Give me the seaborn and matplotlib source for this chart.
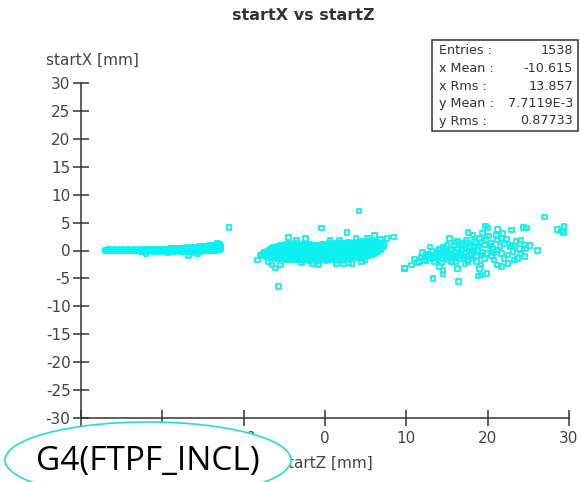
import matplotlib
matplotlib.use("Agg")
import matplotlib.pyplot as plt
from matplotlib.patches import Ellipse, Rectangle
import pandas as pd
import seaborn as sns

# ---- data: start positions (startZ, startX) in mm ----
# upstream band
z_band = [
    -27.0, -27.0, -26.6, -26.6, -26.2, -26.2, -25.8, -25.8, -25.4, -25.4,
    -25.0, -25.0, -24.6, -24.6, -24.2, -24.2, -23.8, -23.8, -23.4, -23.4,
    -23.0, -23.0, -22.6, -22.6, -22.6, -22.2, -22.2, -21.8, -21.8, -21.8,
    -21.4, -21.4, -21.0, -21.0, -21.0, -20.6, -20.6, -20.2, -20.2, -20.2,
    -19.8, -19.8, -19.4, -19.4, -19.4, -19.0, -19.0, -19.0, -18.6, -18.6,
    -18.6, -18.2, -18.2, -18.2, -17.8, -17.8, -17.8, -17.4, -17.4, -17.4,
    -17.0, -17.0, -17.0, -16.6, -16.6, -16.6, -16.2, -16.2, -16.2, -16.2,
    -15.8, -15.8, -15.8, -15.4, -15.4, -15.4, -15.4, -15.0, -15.0, -15.0,
    -14.6, -14.6, -14.6, -14.6, -14.2, -14.2, -14.2, -14.2, -13.8, -13.8,
    -13.8, -13.8, -13.4, -13.4, -13.4, -13.4, -13.0, -13.0, -13.0, -13.0,
    -12.8, -12.8,
    -22.0, -16.8, -15.7, -19.3, -11.8, -13.2,
    -26.8, -26.4, -26.0, -25.6, -25.2, -24.8, -24.4, -24.0, -23.6, -23.2,
    -22.8, -22.4, -22.0, -21.6, -21.2, -20.8, -20.4, -20.0, -19.6, -19.2,
    -18.8, -18.8, -18.4, -18.4, -18.0, -18.0, -17.6, -17.6, -17.2, -17.2,
    -16.8, -16.8, -16.4, -16.4, -16.0, -16.0, -15.6, -15.6, -15.2, -15.2,
    -14.8, -14.8, -14.8, -14.4, -14.4, -14.4, -14.0, -14.0, -14.0,
    -13.6, -13.6, -13.6, -13.2, -13.2, -13.2,
]
x_band = [
    -0.1, 0.1, 0.0, 0.15, -0.1, 0.1, 0.0, 0.15, -0.1, 0.1,
    0.0, 0.2, -0.1, 0.1, 0.0, 0.15, -0.1, 0.1, 0.0, 0.2,
    -0.1, 0.1, -0.2, 0.1, 0.3, -0.1, 0.2, -0.2, 0.0, 0.3,
    -0.1, 0.2, -0.2, 0.1, 0.3, -0.1, 0.2, -0.2, 0.0, 0.3,
    -0.1, 0.2, -0.2, 0.1, 0.3, -0.1, 0.2, 0.4, -0.2, 0.1,
    0.3, -0.1, 0.2, 0.4, -0.3, 0.0, 0.3, -0.2, 0.1, 0.4,
    -0.1, 0.2, 0.5, -0.3, 0.0, 0.3, -0.2, 0.1, 0.4, 0.6,
    -0.1, 0.2, 0.5, -0.2, 0.1, 0.4, 0.7, -0.1, 0.2, 0.5,
    -0.1, 0.2, 0.5, 0.8, 0.0, 0.3, 0.6, 0.9, -0.1, 0.2,
    0.5, 0.8, 0.0, 0.3, 0.6, 1.0, 0.1, 0.4, 0.8, 1.1,
    0.3, 0.7,
    -0.5, -1.0, -0.6, -0.4, 4.1, 1.3,
    0.05, 0.0, 0.05, 0.0, 0.05, 0.0, 0.05, 0.0, 0.05, 0.0,
    0.05, 0.1, 0.05, 0.1, 0.05, 0.1, 0.05, 0.1, 0.05, 0.1,
    0.0, 0.35, 0.0, 0.35, 0.05, 0.4, 0.0, 0.35, 0.05, 0.4,
    0.0, 0.35, 0.05, 0.45, 0.0, 0.4, 0.05, 0.45, 0.0, 0.4,
    0.1, 0.45, 0.75, 0.1, 0.45, 0.75, 0.15, 0.5, 0.8,
    0.15, 0.5, 0.85, 0.2, 0.55, 0.9,
]

# central cluster
z_mid = [
    -7.9, -7.5, -7.5, -7.1, -7.1, -7.1, -6.7, -6.7, -6.7, -6.7,
    -6.3, -6.3, -6.3, -6.3, -6.3, -5.9, -5.9, -5.9, -5.9, -5.9,
    -5.5, -5.5, -5.5, -5.5, -5.5, -5.5, -5.1, -5.1, -5.1, -5.1, -5.1, -5.1,
    -4.7, -4.7, -4.7, -4.7, -4.7, -4.7, -4.3, -4.3, -4.3, -4.3, -4.3, -4.3,
    -3.9, -3.9, -3.9, -3.9, -3.9, -3.9, -3.5, -3.5, -3.5, -3.5, -3.5, -3.5,
    -3.1, -3.1, -3.1, -3.1, -3.1, -3.1, -2.7, -2.7, -2.7, -2.7, -2.7, -2.7,
    -2.3, -2.3, -2.3, -2.3, -2.3, -2.3, -1.9, -1.9, -1.9, -1.9, -1.9, -1.9,
    -1.5, -1.5, -1.5, -1.5, -1.5, -1.5, -1.1, -1.1, -1.1, -1.1, -1.1, -1.1,
    -0.7, -0.7, -0.7, -0.7, -0.7, -0.7, -0.3, -0.3, -0.3, -0.3, -0.3, -0.3,
    0.1, 0.1, 0.1, 0.1, 0.1, 0.1, 0.5, 0.5, 0.5, 0.5, 0.5, 0.5,
    0.9, 0.9, 0.9, 0.9, 0.9, 0.9, 1.3, 1.3, 1.3, 1.3, 1.3, 1.3,
    1.7, 1.7, 1.7, 1.7, 1.7, 1.7, 2.1, 2.1, 2.1, 2.1, 2.1, 2.1,
    2.5, 2.5, 2.5, 2.5, 2.5, 2.5, 2.9, 2.9, 2.9, 2.9, 2.9, 2.9,
    3.3, 3.3, 3.3, 3.3, 3.3, 3.3, 3.7, 3.7, 3.7, 3.7, 3.7, 3.7,
    4.1, 4.1, 4.1, 4.1, 4.1, 4.1, 4.5, 4.5, 4.5, 4.5, 4.5, 4.5,
    4.9, 4.9, 4.9, 4.9, 4.9, 4.9, 5.3, 5.3, 5.3, 5.3, 5.3, 5.3,
    5.7, 5.7, 5.7, 5.7, 5.7, 6.1, 6.1, 6.1, 6.1, 6.1,
    6.5, 6.5, 6.5, 6.5, 6.9, 6.9, 6.9, 7.2, 7.2,
    -4.5, -2.4, -0.4, 2.7, 4.2, 6.1, 7.6, 8.4, 9.8, -8.3,
    -7.0, -6.5, -6.1, -5.5, -5.7, 3.3, 4.9, 1.4, 2.3, -0.8,
    -3.5, 0.6, 1.8, 3.8, 5.2, -1.6, 4.5, 2.9, -2.9, 6.8,
    -7.7, -7.3, -7.3, -6.9, -6.9, -6.9, -6.5, -6.5, -6.5, -6.5,
    -6.1, -6.1, -6.1, -6.1, -5.7, -5.7, -5.7, -5.7, -5.7,
    -5.3, -5.3, -5.3, -5.3, -5.3, -4.9, -4.9, -4.9, -4.9, -4.9,
    -4.5, -4.5, -4.5, -4.5, -4.5, -4.1, -4.1, -4.1, -4.1, -4.1,
    -3.7, -3.7, -3.7, -3.7, -3.7, -3.3, -3.3, -3.3, -3.3, -3.3,
    -2.9, -2.9, -2.9, -2.9, -2.9, -2.5, -2.5, -2.5, -2.5, -2.5,
    -2.1, -2.1, -2.1, -2.1, -2.1, -1.7, -1.7, -1.7, -1.7, -1.7,
    -1.3, -1.3, -1.3, -1.3, -1.3, -0.9, -0.9, -0.9, -0.9, -0.9,
    -0.5, -0.5, -0.5, -0.5, -0.5, -0.1, -0.1, -0.1, -0.1, -0.1,
    0.3, 0.3, 0.3, 0.3, 0.3, 0.7, 0.7, 0.7, 0.7, 0.7,
    1.1, 1.1, 1.1, 1.1, 1.1, 1.5, 1.5, 1.5, 1.5, 1.5,
    1.9, 1.9, 1.9, 1.9, 1.9, 2.3, 2.3, 2.3, 2.3, 2.3,
    2.7, 2.7, 2.7, 2.7, 2.7, 3.1, 3.1, 3.1, 3.1, 3.1,
    3.5, 3.5, 3.5, 3.5, 3.5, 3.9, 3.9, 3.9, 3.9, 3.9,
    4.3, 4.3, 4.3, 4.3, 4.3, 4.7, 4.7, 4.7, 4.7, 4.7,
    5.1, 5.1, 5.1, 5.1, 5.1, 5.5, 5.5, 5.5, 5.5, 5.5,
    5.9, 5.9, 5.9, 5.9, 6.3, 6.3, 6.3, 6.3, 6.7, 6.7,
]
x_mid = [
    -0.8, -0.9, -0.4, -1.1, -0.6, -0.1, -1.2, -0.7, -0.2, 0.2,
    -1.3, -0.8, -0.3, 0.2, 0.5, -1.4, -0.9, -0.4, 0.1, 0.6,
    -1.5, -1.0, -0.5, 0.0, 0.5, 0.9, -1.5, -1.0, -0.4, 0.1, 0.6, 1.0,
    -1.6, -1.1, -0.5, 0.0, 0.5, 1.1, -1.6, -1.0, -0.5, 0.1, 0.6, 1.2,
    -1.7, -1.1, -0.6, 0.0, 0.6, 1.1, -1.7, -1.2, -0.6, -0.1, 0.5, 1.2,
    -1.6, -1.1, -0.5, 0.0, 0.6, 1.0, -1.8, -1.2, -0.7, -0.1, 0.4, 1.1,
    -1.7, -1.1, -0.6, 0.0, 0.5, 1.0, -1.8, -1.2, -0.6, -0.1, 0.5, 1.1,
    -1.7, -1.1, -0.5, 0.0, 0.6, 1.0, -1.8, -1.3, -0.7, -0.1, 0.4, 0.9,
    -1.9, -1.2, -0.6, 0.0, 0.5, 1.0, -1.7, -1.1, -0.5, 0.1, 0.6, 1.1,
    -1.8, -1.2, -0.6, 0.0, 0.5, 1.0, -1.7, -1.1, -0.5, 0.1, 0.6, 1.2,
    -1.6, -1.0, -0.4, 0.2, 0.7, 1.1, -1.7, -1.1, -0.5, 0.1, 0.6, 1.2,
    -1.6, -1.0, -0.4, 0.2, 0.7, 1.3, -1.5, -0.9, -0.3, 0.2, 0.8, 1.2,
    -1.6, -1.0, -0.4, 0.1, 0.7, 1.3, -1.4, -0.8, -0.3, 0.3, 0.8, 1.4,
    -1.5, -0.9, -0.3, 0.2, 0.8, 1.3, -1.3, -0.8, -0.2, 0.3, 0.9, 1.5,
    -1.3, -0.7, -0.1, 0.4, 0.9, 1.4, -1.2, -0.6, 0.0, 0.5, 1.0, 1.6,
    -1.0, -0.5, 0.1, 0.6, 1.1, 1.5, -0.9, -0.3, 0.2, 0.7, 1.2, 1.7,
    -0.7, -0.2, 0.3, 0.8, 1.3, -0.5, 0.0, 0.5, 1.0, 1.5,
    -0.2, 0.3, 0.8, 1.3, 0.2, 0.7, 1.2, 0.6, 1.1,
    2.3, 2.2, 4.0, 3.2, 7.1, 2.7, 2.2, 2.4, -3.1, -1.7,
    -2.0, -2.6, -3.1, -2.6, -6.5, -2.3, -1.6, -2.4, -2.4, -2.5,
    1.8, 1.9, 1.9, 2.1, 2.2, -2.3, -2.0, -2.1, -2.2, 2.0,
    -0.7, -0.8, -0.3, -1.0, -0.4, 0.0, -1.1, -0.5, 0.0, 0.4,
    -1.2, -0.6, -0.1, 0.4, -1.2, -0.7, -0.2, 0.3, 0.8,
    -1.3, -0.7, -0.2, 0.3, 0.8, -1.3, -0.8, -0.2, 0.3, 0.8,
    -1.4, -0.8, -0.3, 0.3, 0.9, -1.4, -0.8, -0.3, 0.3, 0.9,
    -1.4, -0.9, -0.3, 0.3, 0.8, -1.4, -0.8, -0.3, 0.2, 0.8,
    -1.4, -0.9, -0.4, 0.2, 0.8, -1.5, -0.9, -0.3, 0.2, 0.7,
    -1.4, -0.8, -0.3, 0.3, 0.8, -1.5, -0.9, -0.3, 0.2, 0.8,
    -1.4, -0.8, -0.3, 0.3, 0.7, -1.5, -0.9, -0.4, 0.2, 0.7,
    -1.4, -0.8, -0.2, 0.3, 0.8, -1.5, -0.9, -0.3, 0.3, 0.8,
    -1.4, -0.8, -0.3, 0.3, 0.8, -1.4, -0.8, -0.2, 0.4, 0.9,
    -1.3, -0.7, -0.2, 0.4, 0.9, -1.3, -0.7, -0.1, 0.4, 1.0,
    -1.2, -0.6, -0.1, 0.5, 1.0, -1.3, -0.7, -0.1, 0.4, 1.0,
    -1.1, -0.6, 0.0, 0.5, 1.1, -1.2, -0.6, 0.0, 0.5, 1.1,
    -1.0, -0.5, 0.1, 0.6, 1.1, -1.0, -0.4, 0.1, 0.7, 1.2,
    -0.9, -0.3, 0.2, 0.7, 1.3, -0.8, -0.2, 0.3, 0.8, 1.3,
    -0.6, -0.1, 0.4, 0.9, 1.4, -0.4, 0.1, 0.6, 1.1, 1.5,
    -0.2, 0.2, 0.7, 1.2, 0.1, 0.5, 1.0, 1.4, 0.4, 0.9,
]

# downstream cluster
z_down = [
    15.3, 17.6, 18.2, 19.7, 20.0, 21.2, 21.1, 19.4, 19.0, 19.8,
    18.4, 17.4, 16.3, 15.9, 17.0, 17.8, 18.8, 19.6, 20.4, 21.2,
    21.7, 22.3, 22.9, 24.4, 24.8, 23.5, 24.1, 24.5, 23.9, 24.7,
    26.1, 23.1, 22.5, 21.7, 20.8, 20.6, 21.2, 20.0, 19.2, 19.6,
    18.6, 18.0, 17.2, 16.6, 15.7, 15.1, 14.7, 14.1, 13.7, 13.3,
    12.9, 13.5, 14.3, 15.1, 15.5, 16.1, 17.2, 17.6, 18.6, 19.2,
    20.8, 21.7, 22.5, 23.3, 23.7, 21.2, 14.1, 16.3, 19.0, 14.5,
    27.0, 28.6, 29.1, 29.4, 29.3, 9.8, 11.4, 11.6, 13.3, 16.4,
    14.5, 18.8, 19.2, 19.9, 12.7, 11.0, 11.8, 12.2, 12.5, 13.0,
    13.6, 14.0, 14.4, 14.8, 15.2, 15.5, 16.0, 16.3, 16.8, 17.3,
    14.0, 14.6, 15.0, 13.2, 12.0, 15.8, 16.5, 17.0, 17.8, 18.3,
    18.8, 19.3, 17.5, 18.2, 16.0, 16.8, 17.5, 18.6, 19.2, 20.3,
    20.5, 21.5, 22.0, 22.8, 23.0, 24.0, 24.5, 12.4, 13.9, 15.4,
    16.9, 18.1, 20.1, 22.1, 25.2, 21.9, 10.6, 12.9, 14.8, 16.6,
]
x_down = [
    2.2, 3.2, 2.8, 4.4, 4.0, 3.8, 2.8, 3.1, 2.2, 2.0,
    1.6, 1.9, 1.6, 1.0, 1.0, 0.7, 0.7, 1.0, 1.3, 1.9,
    2.2, 2.0, 3.7, 4.1, 4.0, 1.6, 1.9, 1.0, 0.4, 0.4,
    0.0, -0.2, -0.8, -0.5, -0.4, 0.4, 0.1, -0.5, -0.8, -1.4,
    -1.0, -0.5, -0.5, -0.5, -0.8, -0.2, -0.5, -0.2, -0.5, -1.1,
    -0.8, -2.0, -2.2, -1.7, -2.0, -2.0, -2.3, -2.0, -2.0, -2.6,
    -1.7, -2.9, -2.3, -1.7, -1.4, -2.6, -2.9, -3.2, -3.2, -3.6,
    6.0, 3.8, 3.5, 4.3, 3.2, -3.2, -2.2, -2.0, -5.0, -5.5,
    -4.2, -4.6, -4.4, -4.1, -1.1, -1.5, -1.2, -1.6, -0.6, -1.5,
    -1.2, -0.9, -1.5, -1.0, -0.6, 0.2, -0.3, 0.3, 0.1, 0.5,
    0.3, 0.6, 0.9, -0.2, -0.4, -1.3, -1.5, -1.0, -0.9, -0.2,
    0.2, -0.3, -1.6, -1.5, 1.5, 1.3, 1.2, 1.2, 1.5, 0.8,
    -0.9, 0.7, -1.4, 0.6, 1.0, -0.6, -1.1, -1.9, -1.6, -1.2,
    -1.0, 0.1, 2.6, 1.2, 0.9, 3.0, -2.6, 0.6, 0.2, -0.9,
]

z_all = z_band + z_mid + z_down
x_all = x_band + x_mid + x_down
df = pd.DataFrame({"startZ": z_all, "startX": x_all})

# ---- statistics box contents ----
stat_names = ["Entries :", "x Mean :", "x Rms :", "y Mean :", "y Rms :"]
stat_values = ["1538", "-10.615", "13.857", "7.7119E-3", "0.87733"]

x_ticks = [-30, -20, -10, 0, 10, 20, 30]
y_ticks = [-30, -25, -20, -15, -10, -5, 0, 5, 10, 15, 20, 25, 30]

sns.set_style("white")
plt.rcParams["font.family"] = ["DejaVu Sans"]

W, H = 580, 482
fig = plt.figure(figsize=(W / 100, H / 100), dpi=100)
ax = fig.add_axes([81 / W, 1 - 418 / H, (569 - 81) / W, (418 - 83) / H])

sns.scatterplot(
    data=df, x="startZ", y="startX", ax=ax,
    marker="s", s=11, facecolor="none", edgecolor="#0cf0f0",
    linewidth=1.3, legend=False, zorder=3,
)

ax.set_xlim(-30, 30)
ax.set_ylim(-30, 30)
ax.set_xticks(x_ticks)
ax.set_yticks(y_ticks)
ax.set_xticklabels([str(v) for v in x_ticks])
ax.set_yticklabels([str(v) for v in y_ticks])
ax.set_xlabel("")
ax.set_ylabel("")
for side in ("top", "right"):
    ax.spines[side].set_visible(False)
for side in ("left", "bottom"):
    ax.spines[side].set_color("#333333")
    ax.spines[side].set_linewidth(1.1)
ax.tick_params(axis="both", which="major", direction="inout", length=11,
               width=1.1, color="#333333", labelcolor="#444444",
               labelsize=11, bottom=True, left=True)
ax.tick_params(axis="y", pad=2)
ax.tick_params(axis="x", pad=4)
ax.patch.set_alpha(0)

# titles and axis labels
fig.text(303 / W, 1 - 16 / H, "startX vs startZ", ha="center", va="center",
         fontsize=11.5, fontweight="bold", color="#333333")
fig.text(46 / W, 1 - 60 / H, "startX [mm]", ha="left", va="center",
         fontsize=11, color="#444444")
fig.text(326 / W, 1 - 463 / H, "startZ [mm]", ha="center", va="center",
         fontsize=11, color="#444444")

# statistics box
box_l, box_r, box_t, box_b = 432, 578, 40, 131
fig.patches.append(Rectangle((box_l / W, 1 - box_b / H), (box_r - box_l) / W,
                             (box_b - box_t) / H, transform=fig.transFigure,
                             facecolor="white", edgecolor="#333333", lw=1.1))
for i, (name, val) in enumerate(zip(stat_names, stat_values)):
    yy = 1 - (51 + i * 17.5) / H
    fig.text(439 / W, yy, name, ha="left", va="center", fontsize=9.2,
             color="#333333")
    fig.text(573 / W, yy, val, ha="right", va="center", fontsize=9.2,
             color="#333333")

# model label in an ellipse
fig.patches.append(Ellipse((148 / W, 1 - 460 / H), 286 / W, 76 / H,
                           transform=fig.transFigure, facecolor="white",
                           edgecolor="#22dddd", lw=1.2, zorder=10))
fig.text(148 / W, 1 - 470 / H, "G4(FTPF_INCL)", ha="center", va="baseline",
         fontsize=24, family=["Open Sans", "DejaVu Sans"], color="black",
         zorder=11)

fig.savefig("out.png", dpi=100)
